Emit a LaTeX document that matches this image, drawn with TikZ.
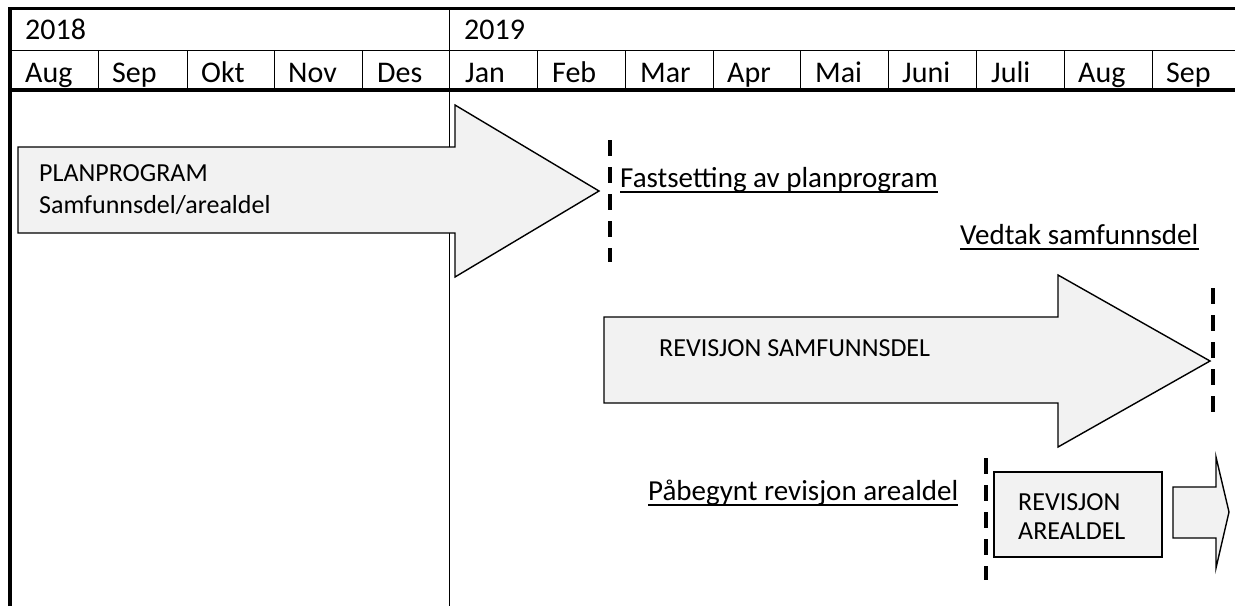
\documentclass[tikz,border=0pt]{standalone}
\usepackage{fontspec}
\setmainfont{Carlito}
\definecolor{arrowgray}{HTML}{F2F2F2}
\begin{document}
\begin{tikzpicture}[x=1pt,y=1pt,
  hdr/.style={font=\fontsize{30}{36}\selectfont, anchor=base west, inner sep=0pt},
  lbl/.style={font=\fontsize{29}{35}\selectfont, anchor=base west, inner sep=0pt},
  inlbl/.style={font=\fontsize{26}{32}\selectfont, anchor=base west, inner sep=0pt},
  blockshape/.style={draw=black, fill=arrowgray, line width=1.4pt, line join=miter},
  milestone/.style={line width=4pt, dash pattern=on 16pt off 11pt},
  heavyline/.style={line width=3.8pt},
  gridline/.style={line width=1pt},
  uline/.style={line width=1.6pt}]
\useasboundingbox (0,0) rectangle (1235,-606);
\fill[white] (0,0) rectangle (1235,-606);

% grid
\draw[gridline] (449,-9) -- (449,-606);
\draw[gridline] (10,-50) -- (1235,-50);
\foreach \x in {98,187,274,362,537,625,713,800,888,976,1064,1152}
  \draw[gridline] (\x,-50) -- (\x,-90);
\draw[heavyline] (10,-90) -- (1235,-90);
\draw[heavyline] (10,-606) -- (10,-8.5) -- (1235,-8.5);

% header texts
\node[hdr] (y18) at (25,-39.5) {2018};
\node[hdr] (y19) at (464,-39.5) {2019};
\node[hdr] (m1) at (25,-82) {Aug};
\node[hdr] (m2) at (112,-82) {Sep};
\node[hdr] (m3) at (201,-82) {Okt};
\node[hdr] (m4) at (288,-82) {Nov};
\node[hdr] (m5) at (377,-82) {Des};
\node[hdr] (m6) at (465,-82) {Jan};
\node[hdr] (m7) at (552,-82) {Feb};
\node[hdr] (m8) at (640,-82) {Mar};
\node[hdr] (m9) at (727,-82) {Apr};
\node[hdr] (m10) at (815,-82) {Mai};
\node[hdr] (m11) at (902,-82) {Juni};
\node[hdr] (m12) at (991,-82) {Juli};
\node[hdr] (m13) at (1078,-82) {Aug};
\node[hdr] (m14) at (1166,-82) {Sep};

% arrows and box
\draw[blockshape] (18,-147) -- (455,-147) -- (455,-105) -- (599,-191) -- (455,-277) -- (455,-233) -- (18,-233) -- cycle;
\draw[blockshape] (604,-317) -- (1058,-317) -- (1058,-275) -- (1210,-361) -- (1058,-447) -- (1058,-403) -- (604,-403) -- cycle;
\draw[blockshape] (994,-472) rectangle (1162,-557);
\draw[blockshape] (1173,-487) -- (1216,-487) -- (1216,-457) -- (1229,-512) -- (1216,-568) -- (1216,-538) -- (1173,-538) -- cycle;

% labels inside
\node[inlbl] (pp1) at (39,-181) {PLANPROGRAM};
\node[inlbl] (pp2) at (39,-213) {Samfunnsdel/arealdel};
\node[inlbl] (rs) at (659,-356) {REVISJON SAMFUNNSDEL};
\node[inlbl] (ra1) at (1018,-510) {REVISJON};
\node[inlbl] (ra2) at (1018,-539) {AREALDEL};

% milestones
\coordinate (d1a) at (610,-140); \coordinate (d1b) at (610,-262);
\coordinate (d2a) at (1213,-288); \coordinate (d2b) at (1213,-416);
\coordinate (d3a) at (986,-458); \coordinate (d3b) at (986,-580);
\draw[milestone] (d1a) -- (d1b);
\draw[milestone] (d2a) -- (d2b);
\draw[milestone] (d3a) -- (d3b);

% milestone labels
\node[lbl] (fast) at (620,-187) {Fastsetting av planprogram};
\draw[uline] ([yshift=-5pt]fast.base west) -- ([yshift=-5pt]fast.base east);
\node[lbl] (vedt) at (960,-244) {Vedtak samfunnsdel};
\draw[uline] ([yshift=-5pt]vedt.base west) -- ([yshift=-5pt]vedt.base east);
\node[lbl] (pabeg) at (648,-500) {Påbegynt revisjon arealdel};
\draw[uline] ([yshift=-5pt]pabeg.base west) -- ([yshift=-5pt]pabeg.base east);
\end{tikzpicture}
\end{document}
